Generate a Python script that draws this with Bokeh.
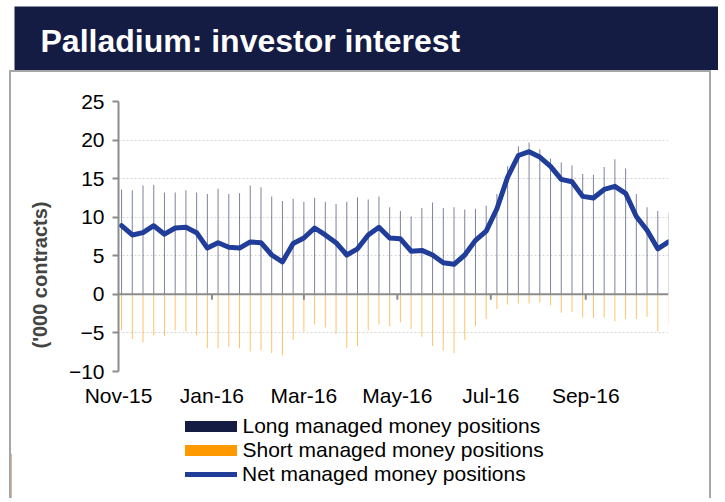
import numpy as np
import pandas as pd
from bokeh.plotting import figure
from bokeh.models import (Range1d, FixedTicker, Span, Label, Legend, LegendItem,
                          ColumnDataSource, Title)
from bokeh.embed import file_html
from bokeh.resources import INLINE

# ---------------- data ----------------
dates = pd.date_range("2015-11-03", periods=52, freq="7D")

long_pos = [13.6, 13.5, 14.1, 14.2, 13.2, 13.2, 13.5, 13.2, 13.0, 13.7,
            13.0, 13.1, 14.1, 13.9, 12.7, 12.1, 12.4, 12.0, 12.5, 12.0,
            11.7, 12.0, 12.6, 12.3, 12.7, 11.3, 10.8, 10.1, 11.2, 11.9,
            11.2, 11.3, 11.0, 11.1, 11.5, 13.0, 16.6, 19.2, 19.7, 18.8,
            17.6, 17.1, 16.7, 15.6, 15.5, 16.5, 17.5, 16.3, 13.0, 11.3,
            10.8, 10.6]

short_pos = [-4.7, -5.8, -6.2, -5.3, -5.4, -4.7, -4.8, -5.3, -7.0, -7.0,
             -6.8, -7.0, -7.4, -7.2, -7.6, -7.9, -5.9, -4.8, -3.9, -4.3,
             -5.1, -7.0, -6.7, -4.7, -3.9, -4.1, -3.6, -4.5, -5.5, -6.7,
             -7.3, -7.6, -5.9, -4.1, -3.2, -1.9, -1.3, -1.2, -1.2, -1.1,
             -1.4, -2.4, -2.3, -3.0, -3.1, -3.0, -3.5, -3.2, -3.2, -2.9,
             -4.8, -3.8]

net_pos = [8.9, 7.7, 8.0, 8.9, 7.8, 8.6, 8.7, 8.0, 6.0, 6.7,
           6.1, 6.0, 6.8, 6.7, 5.1, 4.2, 6.6, 7.3, 8.6, 7.7,
           6.7, 5.1, 5.9, 7.7, 8.7, 7.3, 7.2, 5.6, 5.7, 5.1,
           4.1, 3.9, 5.1, 7.0, 8.2, 11.1, 15.2, 18.0, 18.5, 17.8,
           16.6, 14.9, 14.6, 12.7, 12.5, 13.6, 14.0, 13.1, 10.1, 8.3,
           5.9, 6.8]

tick_dates = pd.to_datetime(["2015-11-01", "2016-01-01", "2016-03-01",
                             "2016-05-01", "2016-07-01", "2016-09-01"])
tick_labels = ["Nov-15", "Jan-16", "Mar-16", "May-16", "Jul-16", "Sep-16"]
y_ticks = [-10, -5, 0, 5, 10, 15, 20, 25]

title_text = "Palladium: investor interest"
y_title = "('000 contracts)"
series_names = ["Long managed money positions",
                "Short managed money positions",
                "Net managed money positions"]

# ---------------- styles ----------------
NAVY = "#141c44"
ORANGE = "#ff9900"
BLUE = "#1f3d99"
GRAY = "#8c8c8c"
BOX = "2px solid #a6a6a6"
FONT = "Liberation Sans"
FS = "21px"

# ---------------- title bar ----------------
pt = figure(width=718, height=70, output_backend="svg", toolbar_location=None,
            x_range=Range1d(0, 1), y_range=Range1d(0, 1),
            min_border_left=14, min_border_right=0, min_border_top=6,
            min_border_bottom=0)
pt.axis.visible = False
pt.grid.visible = False
pt.outline_line_color = None
pt.background_fill_color = NAVY
pt.border_fill_color = "white"
pt.add_layout(Label(x=26, y=30, x_units="screen", y_units="screen",
                    text=title_text, text_color="white", text_font=FONT,
                    text_font_style="bold", text_font_size="32px",
                    text_baseline="middle"))

# ---------------- main chart ----------------
ms_per_day = 86400000
x_start = pd.Timestamp("2015-11-01")
x_end = pd.Timestamp("2016-10-25")

p = figure(width=702, height=339, output_backend="svg", toolbar_location=None,
           x_axis_type="datetime",
           x_range=Range1d(x_start, x_end), y_range=Range1d(-10, 25),
           min_border_left=107, min_border_right=45, min_border_top=29,
           min_border_bottom=40)
p.styles = {"margin-left": "9px", "border-left": BOX, "border-right": BOX,
            "border-top": BOX}
p.outline_line_color = None
p.background_fill_color = "white"
p.border_fill_color = "white"

src = ColumnDataSource(dict(x=dates, long=long_pos, short=short_pos, net=net_pos))
bar_w = 0.65 * ms_per_day
p.vbar(x="x", top="long", bottom=0, width=bar_w, source=src,
       fill_color=NAVY, fill_alpha=0.55, line_color=None)
p.vbar(x="x", top=0, bottom="short", width=bar_w, source=src,
       fill_color=ORANGE, fill_alpha=0.6, line_color=None)

p.add_layout(Span(location=0, dimension="width", line_color=GRAY, line_width=2))

# small x ticks on the zero line
tsrc = ColumnDataSource(dict(x=tick_dates[1:], y0=[0] * 5, y1=[-0.7] * 5))
p.segment(x0="x", x1="x", y0="y0", y1="y1", source=tsrc, line_color=GRAY,
          line_width=2)

p.line(x="x", y="net", source=src, line_color=BLUE, line_width=5,
       line_join="round", line_cap="round")

# grid
p.xgrid.visible = False
p.ygrid.ticker = FixedTicker(ticks=y_ticks)
p.ygrid.grid_line_color = "#d6d6d6"
p.ygrid.grid_line_dash = "2 2"
p.ygrid.grid_line_width = 1

# y axis
p.yaxis.ticker = FixedTicker(ticks=y_ticks)
p.yaxis.axis_line_color = GRAY
p.yaxis.axis_line_width = 2
p.yaxis.major_tick_line_color = GRAY
p.yaxis.major_tick_line_width = 2
p.yaxis.major_tick_out = 6
p.yaxis.major_tick_in = 0
p.yaxis.minor_tick_line_color = None
p.yaxis.major_label_standoff = 8
p.yaxis.major_label_text_font = FONT
p.yaxis.major_label_text_font_size = FS
p.yaxis.major_label_text_color = "black"

# x axis (labels only)
tick_ms = [int(t.value // 10**6) for t in tick_dates]
p.xaxis.ticker = FixedTicker(ticks=tick_ms)
p.xaxis.major_label_overrides = {t: l for t, l in zip(tick_ms, tick_labels)}
p.xaxis.axis_line_color = None
p.xaxis.major_tick_line_color = None
p.xaxis.minor_tick_line_color = None
p.xaxis.major_label_standoff = 6
p.xaxis.major_label_text_font = FONT
p.xaxis.major_label_text_font_size = FS
p.xaxis.major_label_text_color = "black"

# y title on the left side panel
p.add_layout(Title(text=y_title, text_font=FONT, text_font_style="bold",
                   text_font_size="20px", align="left", offset=23,
                   standoff=30), "left")

# ---------------- legend strip ----------------
pl = figure(width=702, height=89, output_backend="svg", toolbar_location=None,
            x_range=Range1d(0, 1), y_range=Range1d(0, 1),
            min_border_left=0, min_border_right=0, min_border_top=0,
            min_border_bottom=0)
pl.styles = {"margin-left": "9px", "border-left": BOX, "border-right": BOX}
pl.axis.visible = False
pl.grid.visible = False
pl.outline_line_color = None
# key glyphs: one point each, kept outside the visible range
key_bar = ColumnDataSource(dict(x=[-5], top=[0.5]))
key_line = ColumnDataSource(dict(x=[-6, -5], y=[0.5, 0.5]))
k_long = pl.vbar(x="x", top="top", width=1, source=key_bar, fill_color=NAVY,
                 line_color=None)
k_short = pl.vbar(x="x", top="top", width=1, source=key_bar, fill_color=ORANGE,
                  line_color=None)
k_net = pl.line(x="x", y="y", source=key_line, line_color=BLUE, line_width=5,
                line_cap="round")

common = dict(padding=0, margin=0, border_line_color=None,
              background_fill_alpha=0, label_text_font=FONT,
              label_text_font_size=FS, label_text_color="black")
leg_a = Legend(items=[LegendItem(label=series_names[0], renderers=[k_long]),
                      LegendItem(label=series_names[1], renderers=[k_short])],
               location=(166.5, 36), spacing=0, glyph_width=65, glyph_height=14,
               label_standoff=0, **common)
leg_b = Legend(items=[LegendItem(label=series_names[2], renderers=[k_net])],
               location=(174, 12), spacing=0, glyph_width=52, glyph_height=14,
               label_standoff=5, **common)
pl.add_layout(leg_a)
pl.add_layout(leg_b)

with open("out.html", "w") as f:
    f.write(file_html([pt, p, pl], INLINE))
